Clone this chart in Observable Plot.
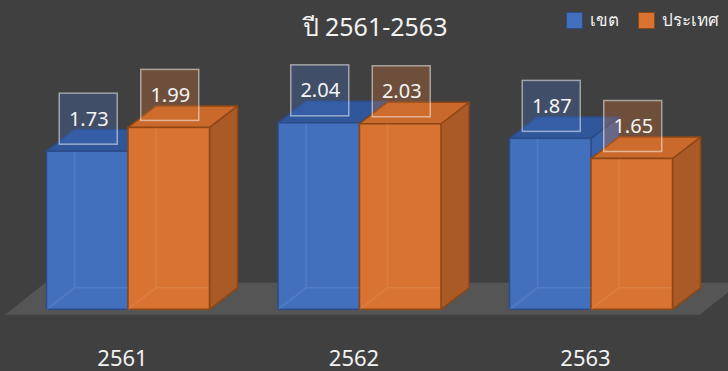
<!DOCTYPE html>
<html>
<head>
<meta charset="utf-8">
<script src="https://cdn.jsdelivr.net/npm/d3@7"></script>
<script src="https://cdn.jsdelivr.net/npm/@observablehq/plot@0.6"></script>
<style>
  html, body { margin: 0; padding: 0; background: #404040; }
  #wrap { position: relative; width: 728px; height: 371px; overflow: hidden; background: #404040;
          font-family: "Noto Sans", "Open Sans", sans-serif; color: #f2f2f2; }
  #chart { position: absolute; left: 0; top: 0; }
  #title { position: absolute; left: 275px; width: 200px; top: 9px; text-align: center;
           font-size: 25px; line-height: 34px; white-space: nowrap; }
  #legend { position: absolute; top: 9px; left: 566px; display: flex; align-items: center;
            font-size: 17px; line-height: 22px; white-space: nowrap; }
  .sw { width: 15px; height: 15px; border: 1.5px solid; margin-right: 7px; }
  .item { display: flex; align-items: center; margin-right: 19px; }
</style>
</head>
<body>
<div id="wrap">
  <div id="chart"></div>
  <div id="title"></div>
  <div id="legend"></div>
</div>
<script>
// ---- data ----
const title = "ปี 2561-2563";
const years = ["2561", "2562", "2563"];
const seriesNames = ["เขต", "ประเทศ"];
const regionValues = [1.73, 2.04, 1.87];   // เขต
const countryValues = [1.99, 2.03, 1.65];  // ประเทศ

// ---- styles ----
const frontColors = ["#4370BD", "#D87331"];
const sideColors = ["#3862A9", "#A95A26"];
const topColors = ["#30579A", "#C9692C"];
const edgeColors = ["#2C4C88", "#8E4714"];
const boxFills = ["rgba(68,114,196,0.30)", "rgba(216,115,49,0.30)"];

const W = 728, H = 371;
const BW = 0.352;         // bar width in group units
const DX = 28, DY = 21.5; // 3D depth in pixels

const seriesValues = [regionValues, countryValues];
const rows = years.flatMap((year, i) =>
  seriesValues.map((vals, k) => ({
    year, i, k, series: seriesNames[k], value: vals[i],
    x1: i + (k - 1) * BW, x2: i + k * BW
  }))
);

document.getElementById("title").textContent = title;
const legend = document.getElementById("legend");
seriesNames.forEach((name, k) => {
  const it = document.createElement("div");
  it.className = "item";
  const sw = document.createElement("div");
  sw.className = "sw";
  sw.style.background = frontColors[k];
  sw.style.borderColor = edgeColors[k];
  const tx = document.createElement("span");
  tx.textContent = name;
  it.appendChild(sw); it.appendChild(tx);
  legend.appendChild(it);
});

const pts = (a) => a.map(p => p.join(",")).join(" ");

// floor plane
const floorMark = (index, scales) => {
  const {x, y} = scales;
  const y0 = y(0) + 5.5;
  const xl = x(-0.5) - 7, xr = x(2.5) - 7;
  const g = d3.create("svg:g");
  g.append("polygon")
    .attr("points", pts([[xl, y0], [xr, y0], [xr + 40, y0 - 32], [xl + 40, y0 - 32]]))
    .attr("fill", "#555555");
  return g.node();
};

// side + top faces
const facesMark = (index, scales) => {
  const {x, y} = scales;
  const g = d3.create("svg:g");
  for (const r of rows) {
    const X1 = x(r.x1), X2 = x(r.x2), Y0 = y(0), YT = y(r.value);
    g.append("polygon")
      .attr("points", pts([[X2, Y0], [X2, YT], [X2 + DX, YT - DY], [X2 + DX, Y0 - DY]]))
      .attr("fill", sideColors[r.k]).attr("stroke", edgeColors[r.k]).attr("stroke-width", 1.5)
      .attr("stroke-linejoin", "round");
    g.append("polygon")
      .attr("points", pts([[X1, YT], [X2, YT], [X2 + DX, YT - DY], [X1 + DX, YT - DY]]))
      .attr("fill", topColors[r.k]).attr("stroke", edgeColors[r.k]).attr("stroke-width", 1.5)
      .attr("stroke-linejoin", "round");
  }
  return g.node();
};

// faint hidden edges seen through the translucent front
const innerEdges = (index, scales) => {
  const {x, y} = scales;
  const g = d3.create("svg:g");
  for (const r of rows) {
    const X1 = x(r.x1), X2 = x(r.x2), Y0 = y(0), YT = y(r.value);
    g.append("path")
      .attr("d", `M${X1},${Y0}L${X1 + DX},${Y0 - DY}L${X2},${Y0 - DY}M${X1 + DX},${Y0 - DY}L${X1 + DX},${YT}`)
      .attr("fill", "none").attr("stroke", "rgba(255,255,255,0.08)").attr("stroke-width", 1.5);
  }
  return g.node();
};

// label boxes
const boxMark = (index, scales) => {
  const {x, y} = scales;
  const g = d3.create("svg:g");
  for (const r of rows) {
    const cx = x((r.x1 + r.x2) / 2) + 1, cy = y(r.value) - 32.5;
    g.append("rect")
      .attr("x", cx - 29).attr("y", cy - 25.5).attr("width", 58).attr("height", 51)
      .attr("fill", boxFills[r.k])
      .attr("stroke", "rgba(255,255,255,0.5)").attr("stroke-width", 1.5);
  }
  return g.node();
};

const plot = Plot.plot({
  width: W, height: H,
  marginLeft: 12.25, marginRight: 21.25, marginTop: 80.8, marginBottom: 61.7,
  style: {background: "transparent", overflow: "visible"},
  x: {type: "linear", domain: [-0.5, 2.5], axis: null},
  y: {type: "linear", domain: [0, 2.5], axis: null},
  marks: [
    floorMark,
    facesMark,
    Plot.rect(rows, {
      x1: "x1", x2: "x2", y1: 0, y2: "value",
      fill: d => frontColors[d.k], stroke: d => edgeColors[d.k], strokeWidth: 1.5
    }),
    innerEdges,
    boxMark,
    Plot.text(rows, {
      x: d => (d.x1 + d.x2) / 2, y: "value", text: d => d.value.toFixed(2),
      dx: 1, dy: -32.5, fill: "#f5f5f5", fontSize: 20, lineAnchor: "middle",
      fontFamily: "'Noto Sans', sans-serif"
    }),
    Plot.text(years, {
      x: (d, i) => i, y: 0, text: d => d, dx: -6, dy: 49,
      fill: "#f2f2f2", fontSize: 22, lineAnchor: "middle",
      fontFamily: "'Noto Sans', sans-serif"
    })
  ]
});
document.getElementById("chart").appendChild(plot);
</script>
</body>
</html>
